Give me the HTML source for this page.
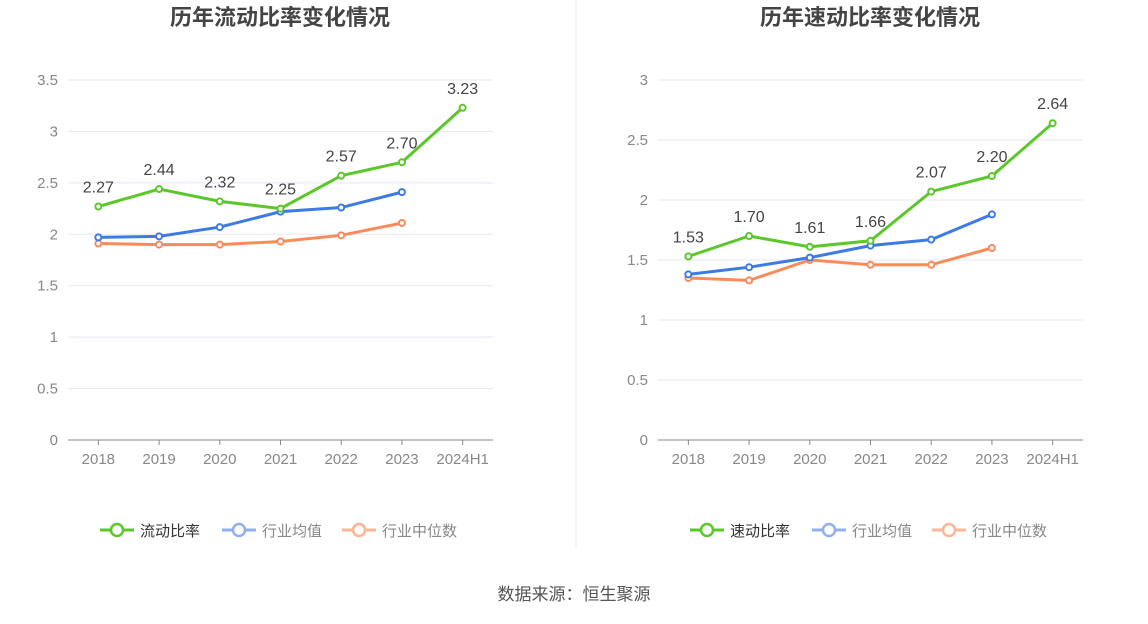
<!DOCTYPE html>
<html><head><meta charset="utf-8"><style>
body{margin:0;background:#fff;width:1148px;height:619px;overflow:hidden;font-family:"Liberation Sans","Noto Sans CJK SC",sans-serif}
svg text{font-family:"Liberation Sans","Noto Sans CJK SC",sans-serif}
</style></head><body>
<svg id="s" width="1148" height="619">
<line x1="576" y1="0" x2="576" y2="548" stroke="#eee"/>
<text x="574" y="600" text-anchor="middle" font-size="17" fill="#555">数据来源：恒生聚源</text>
</svg>
<script>
const years=["2018","2019","2020","2021","2022","2023","2024H1"];
const curMain=[2.27,2.44,2.32,2.25,2.57,2.70,3.23];
const curAvg=[1.97,1.98,2.07,2.22,2.26,2.41];
const curMed=[1.91,1.90,1.90,1.93,1.99,2.11];
const curTicks=[0,0.5,1,1.5,2,2.5,3,3.5];
const quiMain=[1.53,1.70,1.61,1.66,2.07,2.20,2.64];
const quiAvg=[1.38,1.44,1.52,1.62,1.67,1.88];
const quiMed=[1.35,1.33,1.50,1.46,1.46,1.60];
const quiTicks=[0,0.5,1,1.5,2,2.5,3];
const NS="http://www.w3.org/2000/svg",svg=document.getElementById('s');
function mk(t,a,p){const e=document.createElementNS(NS,t);for(const k in a)e.setAttribute(k,a[k]);(p||svg).appendChild(e);return e;}
function chart(prefix,x0,title,name,main,avg,med,ticks){
  const g=mk('g',{});
  
  
  const left=x0+68,right=x0+493,top=80,bot=440,maxV=ticks[ticks.length-1];
  const step=(right-left)/years.length;
  const X=i=>left+step*(i+0.5);
  const Y=v=>bot-(v/maxV)*(bot-top);
  const t=mk('text',{x:x0+280,y:25,'text-anchor':'middle','font-size':22,'font-weight':'bold',fill:'#444'},g);t.textContent=title;
  
  
  ticks.forEach(v=>{
    if(v>0){const l=mk('line',{x1:left,x2:right,y1:Y(v),y2:Y(v),stroke:'#e6e8f0'},g);
    
    }
    const tx=mk('text',{x:left-10,y:Y(v)+5,'text-anchor':'end','font-size':15,fill:'#888'},g);tx.textContent=String(v);
    
    
  });
  const ax=mk('line',{x1:left,x2:right,y1:bot,y2:bot,stroke:'#888'},g);
  
  
  years.forEach((y,i)=>{
    mk('line',{x1:X(i),x2:X(i),y1:bot,y2:bot+5,stroke:'#888'},g);
    const tx=mk('text',{x:X(i),y:bot+24,'text-anchor':'middle','font-size':15,fill:'#888'},g);tx.textContent=y;
    
    
  });
  function series(arr,col,nm,labels){
    const p=mk('polyline',{points:arr.map((v,i)=>X(i)+','+Y(v)).join(' '),fill:'none',stroke:col,'stroke-width':3},g);
    
    
    arr.forEach((v,i)=>{
      const c=mk('circle',{cx:X(i),cy:Y(v),r:3,fill:'#fff',stroke:col,'stroke-width':2},g);
      
      
      if(labels){const tx=mk('text',{x:X(i),y:Y(v)-14,'text-anchor':'middle','font-size':16,fill:'#444'},g);tx.textContent=v.toFixed(2);
      
      }
    });
  }
  series(med,'#fb8a5a','median');
  series(avg,'#3d7ae5','average');
  series(main,'#5cc72a','main',true);
  const leg=[[name,'#5cc72a','#333'],['行业均值','#8fb0f2','#888'],['行业中位数','#fdb596','#888']];
  const lx=[x0+100,x0+222,x0+342];
  leg.forEach((l,i)=>{
    const lg=mk('g',{},g);
    
    
    mk('line',{x1:lx[i],x2:lx[i]+34,y1:530,y2:530,stroke:l[1],'stroke-width':3},lg);
    mk('circle',{cx:lx[i]+17,cy:530,r:6,fill:'#fff',stroke:l[1],'stroke-width':2.5},lg);
    const tx=mk('text',{x:lx[i]+40,y:536,'font-size':15,fill:l[2]},lg);tx.textContent=l[0];
  });
}
chart('current-ratio',0,'历年流动比率变化情况','流动比率',curMain,curAvg,curMed,curTicks);
chart('quick-ratio',590,'历年速动比率变化情况','速动比率',quiMain,quiAvg,quiMed,quiTicks);
</script>
</body></html>
